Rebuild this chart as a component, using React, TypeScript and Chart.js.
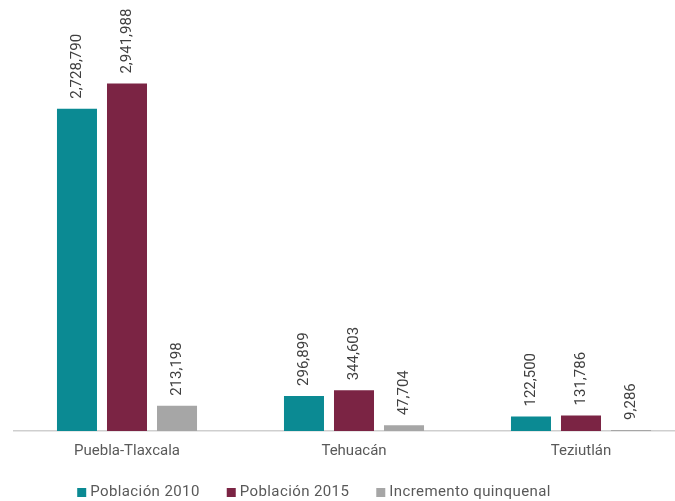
import React, { useEffect, useRef } from "react";
import { Chart, registerables } from "chart.js";

Chart.register(...registerables);

const categories = ["Puebla-Tlaxcala", "Tehuacán", "Teziutlán"];
const poblacion2010 = [2728790, 296899, 122500];
const poblacion2015 = [2941988, 344603, 131786];
const incremento = [213198, 47704, 9286];
const seriesLabels = ["Población 2010", "Población 2015", "Incremento quinquenal"];
const seriesColors = ["#0b8a93", "#7b2444", "#a6a6a6"];

const FONT = "Roboto, 'Liberation Sans', sans-serif";

const fmt = (v: number) => String(v).replace(/\B(?=(\d{3})+(?!\d))/g, ",");

const valueLabels = {
  id: "valueLabels",
  afterDatasetsDraw(chart: any) {
    const ctx = chart.ctx;
    ctx.save();
    ctx.font = `15px ${FONT}`;
    ctx.fillStyle = "#404040";
    ctx.textAlign = "left";
    ctx.textBaseline = "middle";
    chart.data.datasets.forEach((ds: any, di: number) => {
      const meta = chart.getDatasetMeta(di);
      meta.data.forEach((bar: any, i: number) => {
        const text = fmt(ds.data[i]);
        ctx.save();
        ctx.translate(bar.x, bar.y - 10);
        ctx.rotate(-Math.PI / 2);
        ctx.fillText(text, 0, 0);
        ctx.restore();
      });
    });
    ctx.restore();
  },
};

const bottomLegend = {
  id: "bottomLegend",
  afterDraw(chart: any) {
    const ctx = chart.ctx;
    const centerX = 314;
    const y = 492;
    const box = 9;
    const gapBoxText = 4;
    const gapItems = 27;
    ctx.save();
    ctx.font = `15px ${FONT}`;
    try {
      (ctx as any).letterSpacing = "0.4px";
    } catch (e) {}
    ctx.textBaseline = "middle";
    ctx.textAlign = "left";
    const items = chart.data.datasets.map((ds: any) => ({
      label: ds.label,
      color: ds.backgroundColor,
      w: ctx.measureText(ds.label).width,
    }));
    const total =
      items.reduce((s: number, it: any) => s + box + gapBoxText + it.w, 0) +
      gapItems * (items.length - 1);
    let x = centerX - total / 2;
    items.forEach((it: any) => {
      ctx.fillStyle = it.color;
      ctx.fillRect(x, y - 4, box, box);
      x += box + gapBoxText;
      ctx.fillStyle = "#595959";
      ctx.fillText(it.label, x, y);
      x += it.w + gapItems;
    });
    ctx.restore();
  },
};

export default function App() {
  const canvasRef = useRef<HTMLCanvasElement | null>(null);

  useEffect(() => {
    const canvas = canvasRef.current;
    if (!canvas) return;
    const datasets = [poblacion2010, poblacion2015, incremento].map((data, i) => ({
      label: seriesLabels[i],
      data,
      backgroundColor: seriesColors[i],
      borderWidth: 0,
      categoryPercentage: 0.661,
      barPercentage: 0.8,
    }));
    const chart = new Chart(canvas, {
      type: "bar",
      data: { labels: categories, datasets },
      options: {
        responsive: false,
        animation: false,
        layout: { padding: { left: 13.5, right: 0.5, top: 0, bottom: 30 } },
        plugins: {
          legend: { display: false },
          tooltip: { enabled: false },
        },
        scales: {
          x: {
            grid: { display: false, drawTicks: false },
            border: { display: true, color: "#cfcfcf", width: 1.5 },
            ticks: {
              padding: 11,
              color: "#595959",
              font: { family: FONT, size: 15 },
            },
          },
          y: {
            display: false,
            min: 0,
            max: 3650000,
          },
        },
      },
      plugins: [valueLabels, bottomLegend],
    });
    return () => chart.destroy();
  }, []);

  return (
    <div
      style={{
        position: "fixed",
        left: 0,
        top: 0,
        width: 675,
        height: 501,
        overflow: "hidden",
        background: "#ffffff",
      }}
    >
      <canvas ref={canvasRef} width={695} height={501} style={{ display: "block" }} />
    </div>
  );
}
